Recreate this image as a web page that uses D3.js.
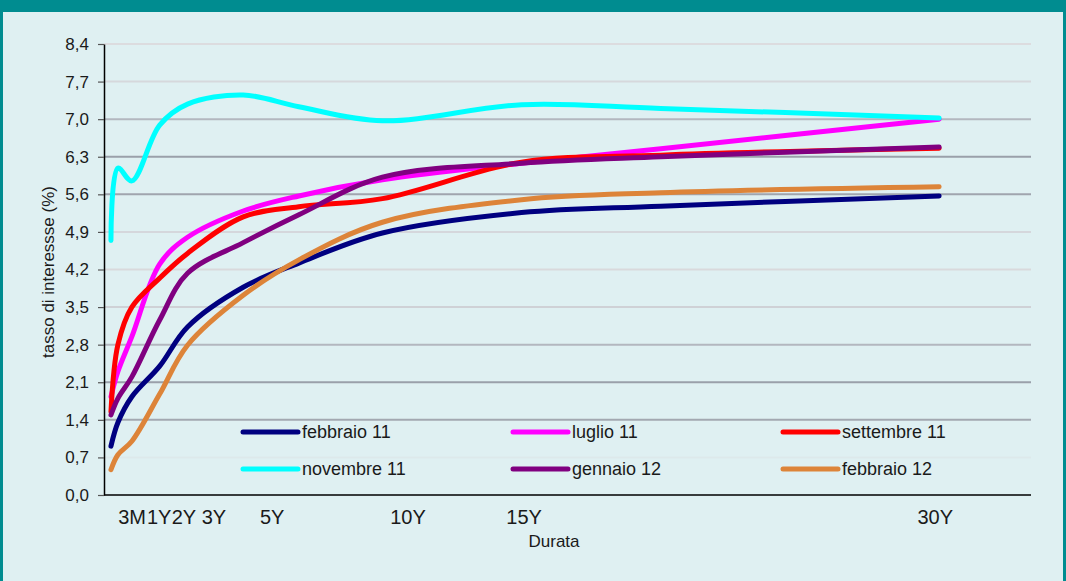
<!DOCTYPE html>
<html>
<head>
<meta charset="utf-8">
<script src="https://cdn.jsdelivr.net/npm/d3@7"></script>
<style>
  html, body { margin: 0; padding: 0; background: #dff0f2; }
  svg { display: block; font-family: "Liberation Sans", Arial, sans-serif; }
</style>
</head>
<body>
<svg id="chart" width="1066" height="581"></svg>
<script>
// ---- data ----
const maturities = [0.25, 0.5, 1, 2, 3, 5, 7, 10, 15, 20, 30]; // years
const seriesNames = ["febbraio 11", "luglio 11", "settembre 11", "novembre 11", "gennaio 12", "febbraio 12"];
const febbraio11  = [0.91, 1.35, 1.83, 2.40, 3.13, 3.87, 4.32, 4.88, 5.26, 5.38, 5.57];
const luglio11    = [1.83, 2.30, 2.95, 4.30, 4.80, 5.29, 5.57, 5.87, 6.18, 6.45, 7.00];
const settembre11 = [1.55, 2.80, 3.50, 4.04, 4.50, 5.18, 5.37, 5.52, 6.20, 6.33, 6.46];
const novembre11  = [4.74, 6.09, 5.85, 6.89, 7.28, 7.45, 7.23, 6.97, 7.27, 7.20, 7.02];
const gennaio12   = [1.49, 1.80, 2.20, 3.26, 4.13, 4.70, 5.22, 5.92, 6.18, 6.30, 6.48];
const febbraio12  = [0.47, 0.75, 1.00, 1.88, 2.79, 3.72, 4.38, 5.08, 5.50, 5.63, 5.74];
const seriesValues = [febbraio11, luglio11, settembre11, novembre11, gennaio12, febbraio12];
const seriesColors = ["#000080", "#ff00ff", "#ff0000", "#00ffff", "#800080", "#dd8439"];
const yTicks = [0, 0.7, 1.4, 2.1, 2.8, 3.5, 4.2, 4.9, 5.6, 6.3, 7.0, 7.7, 8.4];
const xTickLabels = ["3M", "1Y", "2Y", "3Y", "5Y", "10Y", "15Y", "30Y"];
const xTickPos    = [1.01, 1.98, 2.87, 3.95, 6.04, 10.92, 15.09, 29.86]; // label centres in years
const gridColors = ["#000000", "#dde9eb", "#a3a8b1", "#9aa0aa", "#b3b7bf", "#cfd1d6", "#d9d9dc", "#d5d7dc", "#a0a5ae", "#9aa0aa", "#b3b7bf", "#d6d8dc", "#dcdcdf"];

// ---- layout ----
const svg = d3.select("#chart");
const W = 1066, H = 581;
svg.append("rect").attr("x", 0).attr("y", 0).attr("width", W).attr("height", H).attr("fill", "#dff0f2");
svg.append("rect").attr("x", 0).attr("y", 0).attr("width", W).attr("height", 12).attr("fill", "#008c90");
svg.append("rect").attr("x", 0).attr("y", 0).attr("width", 3).attr("height", H).attr("fill", "#008c90");
svg.append("rect").attr("x", W - 3).attr("y", 0).attr("width", 3).attr("height", H).attr("fill", "#008c90");

const x = d3.scaleLinear().domain([0, 33.3]).range([104, 1031]);
const y = d3.scaleLinear().domain([0, 8.4]).range([495, 44]);

// gridlines
svg.append("g").selectAll("line").data(yTicks.slice(1)).join("line")
  .attr("x1", x(0)).attr("x2", x(33.3))
  .attr("y1", d => y(d)).attr("y2", d => y(d))
  .attr("stroke", (d, i) => gridColors[i + 1]).attr("stroke-width", 2);

// y axis
const yAxis = d3.axisLeft(y).tickValues(yTicks).tickSize(6).tickSizeOuter(0)
  .tickFormat(d => d3.format(".1f")(d).replace(".", ","));
const gy = svg.append("g").attr("transform", `translate(${x(0)},0)`).call(yAxis);
gy.select(".domain").attr("stroke", "#000").attr("stroke-width", 1.5);
gy.selectAll(".tick line").attr("stroke", "#555").attr("stroke-width", 1.2);
gy.selectAll(".tick text").attr("font-size", 17).attr("fill", "#1a1a1a").attr("x", -15)
  .attr("font-family", "Liberation Sans, Arial, sans-serif");

// x axis line
svg.append("line").attr("x1", x(0)).attr("x2", x(33.3)).attr("y1", y(0)).attr("y2", y(0))
  .attr("stroke", "#000").attr("stroke-width", 1.5);

// x tick labels
svg.append("g").selectAll("text").data(xTickLabels).join("text")
  .attr("x", (d, i) => x(xTickPos[i])).attr("y", 524)
  .attr("text-anchor", "middle").attr("font-size", 20).attr("fill", "#1a1a1a")
  .text(d => d);

// axis titles
svg.append("text").attr("x", 554).attr("y", 547).attr("text-anchor", "middle")
  .attr("font-size", 17).attr("fill", "#1a1a1a").text("Durata");
svg.append("text").attr("transform", "translate(54,272) rotate(-90)").attr("text-anchor", "middle")
  .attr("font-size", 17).attr("fill", "#1a1a1a").text("tasso di interessse (%)");

// lines
const line = d3.line().x((d, i) => x(maturities[i])).y(d => y(d)).curve(d3.curveCatmullRom.alpha(0.5));
svg.append("g").selectAll("path").data(seriesValues).join("path")
  .attr("d", d => line(d)).attr("fill", "none")
  .attr("stroke", (d, i) => seriesColors[i]).attr("stroke-width", 5)
  .attr("stroke-linecap", "round").attr("stroke-linejoin", "round");

// legend
const legCols = [243, 513, 783];
const legRows = [432, 469];
const leg = svg.append("g").selectAll("g").data(seriesNames).join("g")
  .attr("transform", (d, i) => `translate(${legCols[i % 3]},${legRows[Math.floor(i / 3)]})`);
leg.append("line").attr("x1", 0).attr("x2", 55).attr("y1", 0).attr("y2", 0)
  .attr("stroke", (d, i) => seriesColors[i]).attr("stroke-width", 5).attr("stroke-linecap", "round");
leg.append("text").attr("x", 59).attr("y", 0).attr("dy", "0.35em")
  .attr("font-size", 18).attr("fill", "#1a1a1a").text(d => d);
</script>
</body>
</html>
